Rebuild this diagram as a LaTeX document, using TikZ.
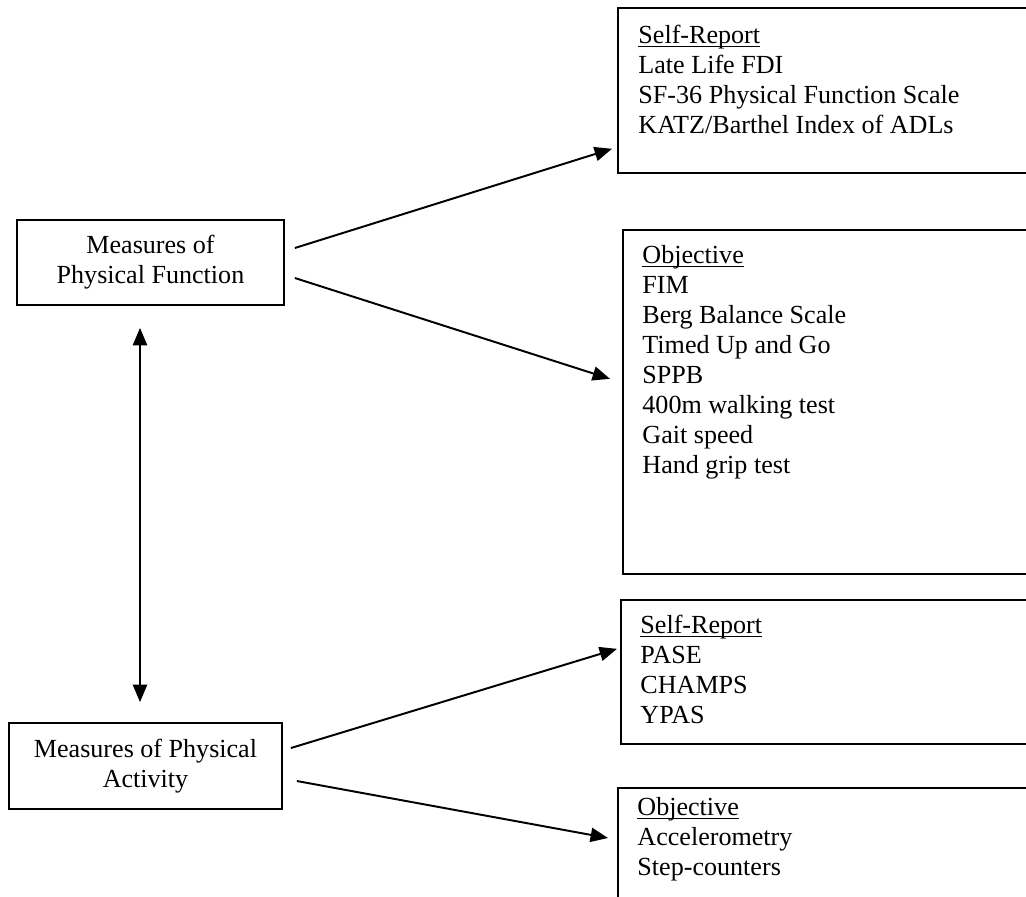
\documentclass[tikz,border=0pt]{standalone}
\usepackage{fontspec}
\setmainfont{Liberation Serif}
\usetikzlibrary{arrows.meta}

\newcommand{\ulhead}[1]{\underline{\raisebox{0pt}[\height][0pt]{#1}}}

\tikzset{
  mbox/.style={draw, line width=0.8pt, align=center, inner sep=0pt},
  lbox/.style={draw, line width=0.8pt, anchor=north west, minimum width=200pt, inner sep=0pt},
  ltext/.style={anchor=north west, align=left, inner sep=0pt},
  arr/.style={line width=0.9pt, -{Triangle[length=8pt,width=6.5pt]}},
}

\begin{document}
\begin{tikzpicture}[x=0.46pt, y=-0.46pt, font=\fontsize{12}{13.8}\selectfont]
        \useasboundingbox (0,0) rectangle (1026,896);
        \clip (0,0) rectangle (1026,896);

        % Riquadri a sinistra
        \node[mbox, minimum width=122.8pt, minimum height=39.1pt] (pf) at (150.5,262.5) {Measures of\\Physical Function};
        \node[mbox, minimum width=125.6pt, minimum height=39.6pt] (pa) at (145.5,766) {Measures of Physical\\Activity};

        % Riquadri a destra
        \node[lbox, minimum height=75.9pt] (sr1) at (617,7) {};
        \node[ltext] (sr1t) at ([shift={(21,18)}]sr1.north west) {\ulhead{Self-Report}\\Late Life FDI\\SF-36 Physical Function Scale\\KATZ/Barthel Index of ADLs};

        \node[lbox, minimum height=158.2pt] (ob1) at (622,229) {};
        \node[ltext] (ob1t) at ([shift={(20,16)}]ob1.north west) {\ulhead{Objective}\\FIM\\Berg Balance Scale\\Timed Up and Go\\SPPB\\400m walking test\\Gait speed\\Hand grip test};

        \node[lbox, minimum height=66.2pt] (sr2) at (620,599) {};
        \node[ltext] (sr2t) at ([shift={(20,16)}]sr2.north west) {\ulhead{Self-Report}\\PASE\\CHAMPS\\YPAS};

        \node[lbox, minimum height=60pt] (ob2) at (617,787) {};
        \node[ltext] (ob2t) at ([shift={(20,10)}]ob2.north west) {\ulhead{Objective}\\Accelerometry\\Step-counters};

        % Frecce
        \draw[arr] ([shift={(10,-14.5)}]pf.east) -- ([shift={(-5,-25)}]sr1.south west);
        \draw[arr] ([shift={(10,15.5)}]pf.east) -- ([shift={(-12,-23)}]ob1.west);
        \draw[arr] ([shift={(8,-18)}]pa.east) -- ([shift={(-3,-23)}]sr2.west);
        \draw[arr] ([shift={(14,15)}]pa.east) -- ([shift={(-9,51)}]ob2.north west);
        \draw[arr, {Triangle[length=8pt,width=6.5pt]}-{Triangle[length=8pt,width=6.5pt]}] ([shift={(-10.5,22)}]pf.south) -- ([shift={(-5.5,-20)}]pa.north);
\end{tikzpicture}
\end{document}
